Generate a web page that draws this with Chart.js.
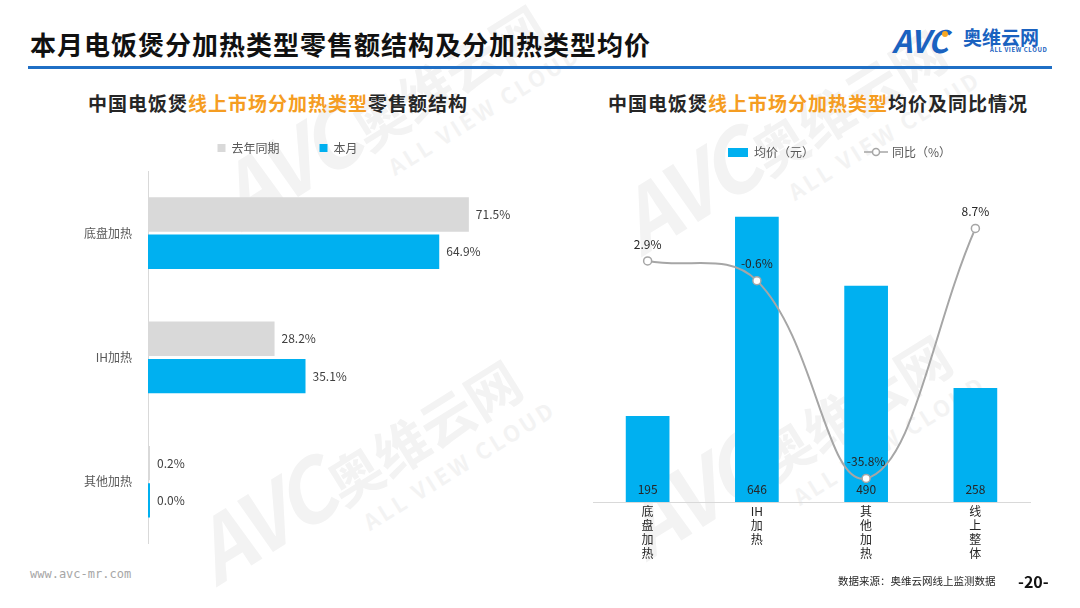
<!DOCTYPE html>
<html lang="zh">
<head>
<meta charset="UTF-8">
<title>电饭煲分加热类型</title>
<script src="https://cdn.jsdelivr.net/npm/chart.js@4.4.1/dist/chart.umd.min.js"></script>
<style>
  body { margin: 0; width: 1080px; height: 608px; overflow: hidden; background: #fff; position: relative;
         font-family: "Noto Sans CJK SC", sans-serif; }
  .abs { position: absolute; white-space: nowrap; }
  .wm { position: absolute; color: #f3f3f3; transform: rotate(-32deg); transform-origin: left top; font-weight: bold; }
  .wm .a { font-size: 84px; font-style: italic; letter-spacing: -4px; }
  .wm .b { font-size: 54px; }
  .wm .c { display: block; font-size: 22px; letter-spacing: 3px; margin-left: 160px; margin-top: -16px; }
  .sub { font-size: 19px; font-weight: bold; color: #262626; letter-spacing: 1px; line-height: 24px; }
  .sub em { font-style: normal; color: #f59d22; }
</style>
</head>
<body>
<div class="wm" style="left:190px;top:150px"><span class="a">AVC</span> <span class="b">奥维云网</span><span class="c">ALL VIEW CLOUD</span></div>
<div class="wm" style="left:165px;top:505px"><span class="a">AVC</span> <span class="b">奥维云网</span><span class="c">ALL VIEW CLOUD</span></div>
<div class="wm" style="left:590px;top:175px"><span class="a">AVC</span> <span class="b">奥维云网</span><span class="c">ALL VIEW CLOUD</span></div>
<div class="wm" style="left:595px;top:480px"><span class="a">AVC</span> <span class="b">奥维云网</span><span class="c">ALL VIEW CLOUD</span></div>

<div class="abs" style="left:30px;top:29px;font-size:26px;font-weight:bold;letter-spacing:1px;line-height:30px;color:#111">本月电饭煲分加热类型零售额结构及分加热类型均价</div>
<div class="abs" style="left:28px;top:66px;width:1024px;height:3px;background:#1f6fc5"></div>

<div class="abs" style="left:892px;top:22px;font-size:31px;font-weight:bold;font-style:italic;color:#1a62c0;letter-spacing:-1px;line-height:36px">AVC</div>
<div class="abs" style="left:942px;top:31px;width:6px;height:6px;border-radius:3px;background:#f5a623"></div>
<div class="abs" style="left:963px;top:26px;font-size:19px;font-weight:bold;color:#1a62c0;line-height:22px">奥维云网</div>
<div class="abs" style="left:990px;top:46px;font-size:6px;font-weight:bold;color:#1a62c0;line-height:8px;letter-spacing:0.6px">ALL VIEW CLOUD</div>

<div class="abs sub" style="left:88px;top:91px">中国电饭煲<em>线上市场分加热类型</em>零售额结构</div>
<div class="abs sub" style="left:608px;top:91px">中国电饭煲<em>线上市场分加热类型</em>均价及同比情况</div>

<div class="abs" style="left:40px;top:102px;width:482px;height:457px"><canvas id="shareChart"></canvas></div>
<div class="abs" style="left:585px;top:94px;width:495px;height:490px"><canvas id="priceChart"></canvas></div>

<div class="abs" style="left:30px;top:567px;font-family:'DejaVu Sans Mono',monospace;font-size:12px;color:#a6a6a6">www.avc-mr.com</div>
<div class="abs" style="left:838px;top:573px;font-size:10.5px;color:#262626">数据来源：奥维云网线上监测数据</div>
<div class="abs" style="left:1018px;top:569px;font-size:16px;font-weight:bold;color:#111">-20-</div>

<script>
// left: 零售额结构 (%)
const heatTypes = ['底盘加热', 'IH加热', '其他加热'];
const lastYearShare = [71.5, 28.2, 0.2];
const thisMonthShare = [64.9, 35.1, 0.0];

// right: 均价 (元) and 同比 (%)
const priceTypes = ['底盘加热', 'IH加热', '其他加热', '线上整体'];
const avgPrice = [195, 646, 490, 258];
const priceYoY = [2.9, -0.6, -35.8, 8.7];

Chart.defaults.font.family = '"Noto Sans CJK SC", sans-serif';
Chart.defaults.font.size = 12;
Chart.defaults.animation = false;

// fixed legend height and horizontal nudge so the plot area lands where it should
function legendFix(height, dx) {
    return {
        id: 'legendFix',
        beforeInit(chart) {
            const orig = chart.legend.fit;
            chart.legend.fit = function () { orig.call(this); this.height = height; };
        },
        afterLayout(chart) {
            chart.legend.left += dx;
            chart.legend.right += dx;
        }
    };
}

function valueLabels(drawOne) {
    return {
        id: 'valueLabels',
        afterDatasetsDraw(chart) {
            const ctx = chart.ctx;
            ctx.save();
            ctx.font = '12px "Noto Sans CJK SC"';
            ctx.textBaseline = 'middle';
            chart.data.datasets.forEach((ds, i) => {
                chart.getDatasetMeta(i).data.forEach((el, j) => drawOne(ctx, el, ds.data[j], ds));
            });
            ctx.restore();
        }
    };
}

new Chart(document.getElementById('shareChart'), {
    type: 'bar',
    data: {
        labels: heatTypes,
        datasets: [
            { label: '去年同期', data: lastYearShare, backgroundColor: '#d9d9d9', borderWidth: 0 },
            { label: '本月', data: thisMonthShare, backgroundColor: '#00b0f0', borderWidth: 0 }
        ]
    },
    options: {
        indexAxis: 'y',
        responsive: true,
        maintainAspectRatio: false,
        layout: { padding: { right: 15 } },
        datasets: { bar: { categoryPercentage: 0.6, barPercentage: 0.92, minBarLength: 2 } },
        scales: {
            x: { display: false, min: 0, max: 80 },
            y: {
                grid: { display: false },
                border: { color: '#d9d9d9' },
                ticks: { color: '#595959', padding: 8 },
                afterFit(scale) { scale.width = 108; }
            }
        },
        plugins: {
            tooltip: { enabled: false },
            legend: {
                labels: { boxWidth: 8, boxHeight: 8, padding: 40, color: '#595959' }
            }
        }
    },
    plugins: [
        legendFix(69, 14),
        valueLabels((ctx, el, v) => {
            ctx.fillStyle = '#404040';
            ctx.textAlign = 'left';
            ctx.fillText(v.toFixed(1) + '%', el.x + 7, el.y);
        })
    ]
});

function barIcon() {
    const c = document.createElement('canvas');
    c.width = 20; c.height = 9;
    const g = c.getContext('2d');
    g.fillStyle = '#00b0f0';
    g.fillRect(0, 0, 20, 9);
    return c;
}
function lineIcon() {
    const c = document.createElement('canvas');
    c.width = 24; c.height = 10;
    const g = c.getContext('2d');
    g.strokeStyle = '#a6a6a6';
    g.lineWidth = 1.5;
    g.beginPath(); g.moveTo(0, 5); g.lineTo(24, 5); g.stroke();
    g.fillStyle = '#fff';
    g.beginPath(); g.arc(12, 5, 3.5, 0, Math.PI * 2); g.fill(); g.stroke();
    return c;
}
const legendIcons = [barIcon(), lineIcon()];

new Chart(document.getElementById('priceChart'), {
    data: {
        labels: priceTypes.map(t => t.startsWith('IH') ? ['IH', '加', '热'] : t.split('')),
        datasets: [
            {
                type: 'bar', label: '均价（元）', data: avgPrice, yAxisID: 'y', order: 2,
                backgroundColor: '#00b0f0', borderWidth: 0,
                categoryPercentage: 0.8, barPercentage: 0.5
            },
            {
                type: 'line', label: '同比（%）', data: priceYoY, yAxisID: 'y1', order: 1,
                borderColor: '#a6a6a6', borderWidth: 2, tension: 0.4,
                pointRadius: 4, pointBackgroundColor: '#fff', pointBorderColor: '#a6a6a6', pointBorderWidth: 1.5
            }
        ]
    },
    options: {
        responsive: true,
        maintainAspectRatio: false,
        layout: { padding: { left: 8, right: 50 } },
        scales: {
            x: {
                grid: { display: false },
                border: { color: '#d9d9d9' },
                ticks: { color: '#262626', padding: -5, maxRotation: 0, autoSkip: false,
                         font: { size: 12, lineHeight: 1.15 } },
                afterFit(scale) { scale.height = 82; }
            },
            y: { display: false, min: 0, max: 700 },
            y1: { display: false, min: -40, max: 15 }
        },
        plugins: {
            tooltip: { enabled: false },
            legend: {
                labels: {
                    usePointStyle: true, pointStyleWidth: 20, padding: 52, color: '#595959',
                    generateLabels(chart) {
                        const items = Chart.defaults.plugins.legend.labels.generateLabels(chart);
                        items.forEach(it => { it.pointStyle = legendIcons[it.datasetIndex]; });
                        return items.sort((a, b) => a.datasetIndex - b.datasetIndex);
                    }
                }
            }
        }
    },
    plugins: [
        legendFix(99, 28),
        valueLabels((ctx, el, v, ds) => {
            ctx.fillStyle = '#262626';
            ctx.textAlign = 'center';
            if (ds.type === 'bar') ctx.fillText(String(v), el.x, el.base - 13);
            else ctx.fillText(v.toFixed(1) + '%', el.x, el.y - 17);
        })
    ]
});
</script>
</body>
</html>
